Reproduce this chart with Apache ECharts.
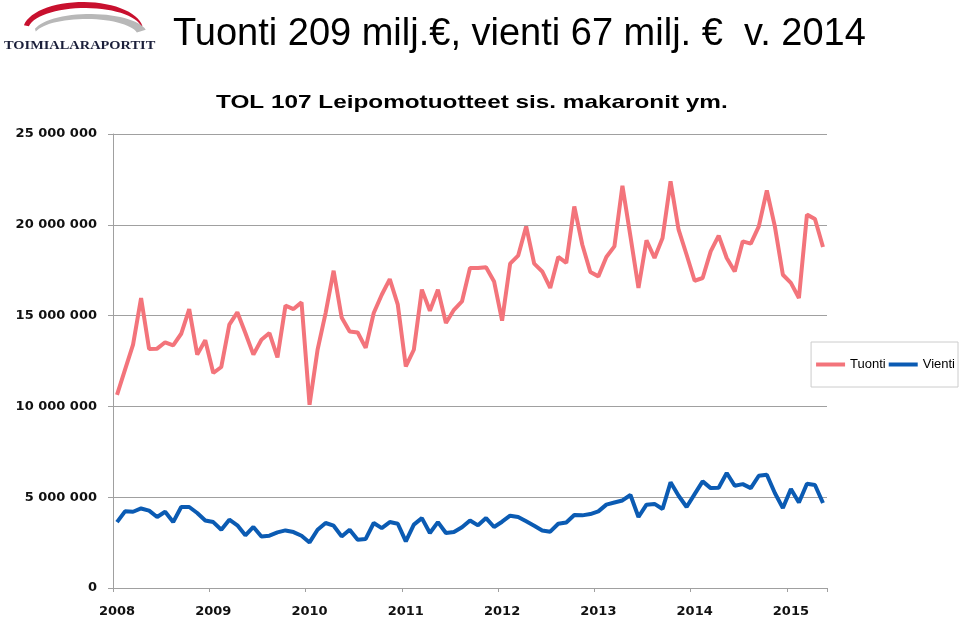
<!DOCTYPE html>
<html>
<head>
<meta charset="utf-8">
<title>Tuonti ja vienti</title>
<script src="https://cdn.jsdelivr.net/npm/echarts@6/dist/echarts.min.js"></script>
<style>
  html, body { margin: 0; padding: 0; background: #fff; }
  #chart { width: 959px; height: 619px; }
</style>
</head>
<body>
<div id="chart"></div>
<script>
// vuodet akselilla, kuukausidata tammikuu 2008 - toukokuu 2015
var years = ['2008', '2009', '2010', '2011', '2012', '2013', '2014', '2015'];
var lastYearMonths = 5;

// tuonti, euroa / kk
var tuonti = [
  10640000, 12020000, 13400000, 15970000, 13160000, 13180000, 13530000, 13360000, 14000000, 15360000, 12850000, 13640000,
  11840000, 12170000, 14500000, 15180000, 14040000, 12850000, 13670000, 14040000, 12700000, 15550000, 15360000, 15730000,
  10090000, 13120000, 15140000, 17470000, 14900000, 14130000, 14070000, 13220000, 15140000, 16150000, 17010000, 15600000,
  12200000, 13120000, 16430000, 15270000, 16430000, 14590000, 15320000, 15780000, 17620000, 17620000, 17660000, 16880000,
  14720000, 17860000, 18300000, 19910000, 17860000, 17430000, 16520000, 18230000, 17900000, 21010000, 18900000, 17400000,
  17160000, 18230000, 18810000, 22150000, 19360000, 16520000, 19140000, 18170000, 19270000, 22390000, 19730000, 18350000,
  16920000, 17070000, 18540000, 19400000, 18170000, 17430000, 19090000, 18960000, 19910000, 21890000, 19910000, 17250000,
  16800000, 15970000, 20560000, 20320000, 18780000
];

// vienti, euroa / kk
var vienti = [
  3630000, 4220000, 4200000, 4380000, 4260000, 3910000, 4200000, 3630000, 4460000, 4460000, 4130000, 3720000,
  3630000, 3210000, 3760000, 3450000, 2900000, 3360000, 2840000, 2880000, 3060000, 3170000, 3080000, 2880000,
  2510000, 3210000, 3580000, 3430000, 2840000, 3210000, 2660000, 2700000, 3580000, 3300000, 3630000, 3540000,
  2570000, 3490000, 3850000, 3030000, 3630000, 3030000, 3080000, 3340000, 3720000, 3450000, 3850000, 3360000,
  3650000, 3980000, 3910000, 3670000, 3430000, 3170000, 3100000, 3540000, 3610000, 4020000, 4000000, 4070000,
  4220000, 4590000, 4710000, 4820000, 5120000, 3910000, 4590000, 4630000, 4350000, 5820000, 5080000, 4460000,
  5170000, 5870000, 5500000, 5520000, 6330000, 5630000, 5720000, 5500000, 6180000, 6240000, 5230000, 4400000,
  5450000, 4710000, 5740000, 5670000, 4680000
];

var seriesNames = ['Tuonti', 'Vienti'];
var seriesColors = ['#f3747b', '#0b5bb3'];

var months = [];
years.forEach(function (y, idx) {
  var n = idx === years.length - 1 ? lastYearMonths : 12;
  for (var m = 1; m <= n; m++) {
    months.push(y + '-' + (m < 10 ? '0' + m : m));
  }
});

// logon kaaret (puolikuu kahden ellipsin välissä)
function crescent(o, i, a0, a1) {
  var pts = [];
  var steps = 30;
  for (var k = 0; k <= steps; k++) {
    var t = (a0 + (a1 - a0) * k / steps) * Math.PI / 180;
    pts.push([o.cx + o.rx * Math.cos(t), o.cy - o.ry * Math.sin(t)]);
  }
  for (var k2 = steps; k2 >= 0; k2--) {
    var t2 = (a0 + (a1 - a0) * k2 / steps) * Math.PI / 180;
    pts.push([i.cx + i.rx * Math.cos(t2), i.cy - i.ry * Math.sin(t2)]);
  }
  return pts;
}

var chart = echarts.init(document.getElementById('chart'));

var option = {
  animation: false,
  backgroundColor: '#fff',
  title: {
    text: 'Tuonti 209 milj.€, vienti 67 milj. €  v. 2014',
    left: 168,
    top: 11,
    textStyle: {
      fontFamily: 'Liberation Sans',
      fontSize: 38,
      fontWeight: 'normal',
      color: '#000'
    }
  },
  graphic: [
    {
      type: 'polygon',
      shape: { points: crescent({ cx: 83, cy: 30, rx: 60, ry: 28 }, { cx: 85, cy: 30, rx: 57, ry: 22 }, 170, 8) },
      style: { fill: '#c8102e' }
    },
    {
      type: 'polygon',
      shape: { points: crescent({ cx: 90, cy: 34, rx: 57, ry: 20 }, { cx: 86, cy: 36, rx: 52, ry: 17 }, 165, 12) },
      style: { fill: '#b8b8b8' }
    },
    {
      type: 'text',
      x: 4,
      y: 40,
      scaleX: 1.2,
      style: {
        text: 'TOIMIALARAPORTIT',
        font: 'bold 12px "Liberation Serif"',
        fill: '#1b1f3a'
      }
    },
    {
      // alaotsikko, venytetty vaakasuunnassa kuten alkuperäisessä
      type: 'text',
      x: 216,
      y: 93,
      scaleX: 1.28,
      style: {
        text: 'TOL 107 Leipomotuotteet sis. makaronit ym.',
        font: 'bold 19px "Liberation Sans"',
        fill: '#000'
      }
    }
  ],
  legend: {
    data: seriesNames,
    right: 1,
    top: 342,
    orient: 'horizontal',
    icon: 'rect',
    itemWidth: 29,
    itemHeight: 4,
    itemGap: 3,
    padding: [16, 3, 16, 5],
    borderColor: '#cccccc',
    borderWidth: 1,
    textStyle: {
      fontFamily: 'Liberation Sans',
      fontSize: 13,
      color: '#000'
    }
  },
  grid: {
    left: 113,
    right: 132,
    top: 134,
    bottom: 31,
    containLabel: false
  },
  xAxis: {
    type: 'category',
    data: months,
    boundaryGap: true,
    axisLine: { lineStyle: { color: '#a0a0a0', width: 1 } },
    axisTick: {
      show: true,
      interval: 11,
      length: 4,
      lineStyle: { color: '#a0a0a0' }
    },
    axisLabel: {
      interval: 11,
      margin: 17,
      fontFamily: 'DejaVu Sans',
      fontWeight: 'bold',
      fontSize: 13,
      color: '#111',
      formatter: function (v) { return v.slice(0, 4); }
    },
    splitLine: { show: false }
  },
  yAxis: {
    type: 'value',
    min: 0,
    max: 25000000,
    interval: 5000000,
    axisLine: { show: true, lineStyle: { color: '#a0a0a0', width: 1 } },
    axisTick: { show: true, length: 5, lineStyle: { color: '#a0a0a0' } },
    axisLabel: {
      margin: 16,
      fontFamily: 'DejaVu Sans',
      fontWeight: 'bold',
      fontSize: 13,
      color: '#111',
      formatter: function (v) {
        return String(v).replace(/\B(?=(\d{3})+(?!\d))/g, ' ');
      }
    },
    splitLine: { show: true, lineStyle: { color: '#a0a0a0', width: 1 } }
  },
  series: [
    {
      name: seriesNames[0],
      type: 'line',
      data: tuonti,
      symbol: 'none',
      color: seriesColors[0],
      lineStyle: { width: 4, color: seriesColors[0] }
    },
    {
      name: seriesNames[1],
      type: 'line',
      data: vienti,
      symbol: 'none',
      color: seriesColors[1],
      lineStyle: { width: 4, color: seriesColors[1] }
    }
  ]
};

chart.setOption(option);
</script>
</body>
</html>
